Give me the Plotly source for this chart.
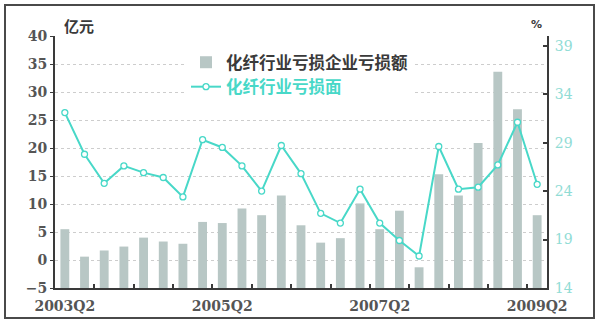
import plotly.graph_objects as go

# ---- data ----
quarters = ["2003Q2", "2003Q3", "2003Q4", "2004Q1", "2004Q2", "2004Q3", "2004Q4",
            "2005Q1", "2005Q2", "2005Q3", "2005Q4", "2006Q1", "2006Q2", "2006Q3",
            "2006Q4", "2007Q1", "2007Q2", "2007Q3", "2007Q4", "2008Q1", "2008Q2",
            "2008Q3", "2008Q4", "2009Q1", "2009Q2"]
loss_amount = [5.5, 0.6, 1.7, 2.4, 4.0, 3.3, 2.9, 6.8, 6.6, 9.2, 8.0, 11.5, 6.2,
               3.1, 3.9, 10.1, 5.5, 8.8, -1.3, 15.3, 11.5, 20.9, 33.6, 26.9, 8.0]
loss_ratio = [32.1, 27.8, 24.8, 26.6, 25.9, 25.4, 23.4, 29.3, 28.5, 26.6, 24.0, 28.7,
              25.8, 21.7, 20.7, 24.2, 20.7, 18.9, 17.3, 28.6, 24.2, 24.4, 26.7, 31.1, 24.7]
x_labels = ["2003Q2", "2005Q2", "2007Q2", "2009Q2"]
left_ticks = [-5, 0, 5, 10, 15, 20, 25, 30, 35, 40]
right_ticks = [14, 19, 24, 29, 34, 39]
bar_name = "化纤行业亏损企业亏损额"
line_name = "化纤行业亏损面"
left_unit = "亿元"
right_unit = "%"
left_range = [-5, 40]
right_range = [14, 40]

# ---- style ----
W, H = 600, 327
L, R, T, B = 55, 53, 36, 39
PW, PH = W - L - R, H - T - B
BAR_COLOR = "#b8c7c5"
LINE_COLOR = "#48d8c8"
AXIS_COLOR = "#3a3a3a"
NUM_FONT = dict(family="DejaVu Serif", size=14, color="#555555", weight="bold")
CJK = "Noto Sans CJK SC"


def px_x(p):
    return (p - L) / PW


def px_y(p):
    return 1 - (p - T) / PH


base = left_range[0]
fig = go.Figure()
fig.add_trace(go.Bar(
    x=quarters, y=[v - base for v in loss_amount], base=base,
    name=bar_name, marker=dict(color=BAR_COLOR, line=dict(width=0)),
    width=0.45, xaxis="x", yaxis="y", hoverinfo="skip",
))
fig.add_trace(go.Scatter(
    x=quarters, y=loss_ratio, mode="lines+markers",
    name='<span style="color:%s">%s</span>' % (LINE_COLOR, line_name),
    line=dict(color=LINE_COLOR, width=2),
    marker=dict(symbol="circle", size=6, color="white",
                line=dict(color=LINE_COLOR, width=1.3)),
    xaxis="x2", yaxis="y2",
))

cat_range = [-0.5, len(quarters) - 0.5]
fig.update_layout(
    width=W, height=H,
    margin=dict(l=L, r=R, t=T, b=B),
    paper_bgcolor="white", plot_bgcolor="white",
    showlegend=True,
    legend=dict(
        x=px_x(186), y=px_y(45), xanchor="left", yanchor="top",
        bgcolor="white", borderwidth=0, itemwidth=30,
        font=dict(family=CJK, size=16.5, color="#3a3a3a", weight="bold"),
        tracegroupgap=0,
    ),
    xaxis=dict(
        type="category", categoryorder="array", categoryarray=quarters,
        range=cat_range, tickmode="array", tickvals=x_labels, ticktext=x_labels,
        ticks="", showgrid=False, showline=True, linecolor=AXIS_COLOR, linewidth=2,
        tickfont=NUM_FONT, zeroline=False, ticklabelstandoff=4,
    ),
    xaxis2=dict(
        type="category", categoryorder="array", categoryarray=quarters,
        overlaying="x", anchor="y2", side="bottom",
        range=cat_range, tickmode="array", tickvals=quarters[2::2],
        tickson="boundaries", ticks="inside", ticklen=4, tickwidth=2,
        tickcolor=AXIS_COLOR, showticklabels=False, showgrid=False,
        showline=False, zeroline=False,
    ),
    yaxis=dict(
        range=left_range, tickmode="array", tickvals=left_ticks,
        showgrid=True, gridcolor="#cdcdcd", griddash="dot", gridwidth=1,
        showline=True, linecolor=AXIS_COLOR, linewidth=2,
        ticks="outside", ticklen=3, tickcolor=AXIS_COLOR,
        tickfont=NUM_FONT, zeroline=False,
    ),
    yaxis2=dict(
        range=right_range, tickmode="array", tickvals=right_ticks,
        overlaying="y", side="right", anchor="x",
        showgrid=False, showline=True, linecolor=AXIS_COLOR, linewidth=2,
        ticks="inside", ticklen=4, tickwidth=2, tickcolor=AXIS_COLOR,
        tickfont=dict(family="DejaVu Serif", size=14, color="#90dcd5"),
        zeroline=False, ticklabelstandoff=3,
    ),
    annotations=[
        dict(text=left_unit, xref="paper", yref="paper", x=px_x(79), y=px_y(26),
             showarrow=False, xanchor="center", yanchor="middle",
             font=dict(family=CJK, size=15, color="#3a3a3a", weight="bold")),
        dict(text=right_unit, xref="paper", yref="paper", x=px_x(536), y=px_y(25),
             showarrow=False, xanchor="center", yanchor="middle",
             font=dict(family="DejaVu Sans", size=11, color="#3a3a3a", weight="bold")),
    ],
    shapes=[
        dict(type="rect", xref="paper", yref="paper",
             x0=px_x(5), x1=px_x(594), y0=px_y(318), y1=px_y(5),
             line=dict(color="#4a4a4a", width=2), fillcolor="rgba(0,0,0,0)",
             layer="above"),
    ],
)

fig.write_html("out.html")
